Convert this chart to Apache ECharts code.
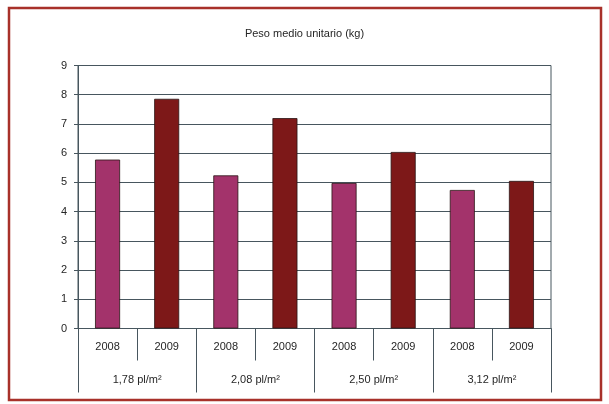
<!DOCTYPE html>
<html>
<head>
<meta charset="utf-8">
<script src="https://cdn.jsdelivr.net/npm/echarts@6/dist/echarts.min.js"></script>
<style>
html,body{margin:0;padding:0;background:#fff;}
#c{width:609px;height:404px;}
</style>
</head>
<body>
<div id="c"></div>
<script>
const titleText = 'Peso medio unitario (kg)';
const years = ['2008', '2009'];
const groups = ['1,78 pl/m²', '2,08 pl/m²', '2,50 pl/m²', '3,12 pl/m²'];
const values2008 = [5.78, 5.24, 4.98, 4.74];
const values2009 = [7.86, 7.20, 6.04, 5.05];
const yTicks = [0, 1, 2, 3, 4, 5, 6, 7, 8, 9];

const colors = ['#a3336b', '#7d1818'];
const lineCol = '#47565e';
const textCol = '#262626';
const font = 'Liberation Sans, Arial, sans-serif';

const cats = [];
const barData = [];
groups.forEach((g, i) => {
  [values2008[i], values2009[i]].forEach((v, j) => {
    cats.push(years[j]);
    barData.push({ value: v, itemStyle: { color: colors[j] } });
  });
});

const chart = echarts.init(document.getElementById('c'), null, { renderer: 'canvas' });
chart.setOption({
  backgroundColor: '#fff',
  animation: false,
  textStyle: { fontFamily: font },
  title: {
    text: titleText,
    left: 'center',
    top: 23,
    textStyle: { fontSize: 11, fontWeight: 'normal', color: textCol, fontFamily: font }
  },
  graphic: [{
    type: 'rect',
    shape: { x: 9, y: 8, width: 592, height: 392 },
    style: { fill: null, stroke: '#a8312a', lineWidth: 2.5 },
    silent: true
  }],
  grid: {
    left: 78, right: 58, top: 65.5, bottom: 75.5,
    show: true, borderColor: lineCol, borderWidth: 1, backgroundColor: 'transparent'
  },
  xAxis: [{
    type: 'category',
    data: cats,
    position: 'bottom',
    axisLine: { show: true, lineStyle: { color: lineCol, width: 1 } },
    axisTick: { show: true, length: 32, lineStyle: { color: lineCol } },
    axisLabel: { margin: 13, fontSize: 11, color: textCol, fontFamily: font, interval: 0 }
  }, {
    type: 'category',
    data: groups,
    position: 'bottom',
    axisLine: { show: false },
    axisTick: { show: true, length: 64, lineStyle: { color: lineCol } },
    axisLabel: { margin: 46, fontSize: 11, color: textCol, fontFamily: font, interval: 0 }
  }],
  yAxis: {
    type: 'value',
    min: yTicks[0],
    max: yTicks[yTicks.length - 1],
    interval: 1,
    axisLine: { show: true, lineStyle: { color: lineCol } },
    axisTick: { show: true, length: 4, lineStyle: { color: lineCol } },
    axisLabel: { margin: 11, fontSize: 11, color: textCol, fontFamily: font },
    splitLine: { show: true, lineStyle: { color: lineCol, width: 1 } }
  },
  series: [{
    type: 'bar',
    xAxisIndex: 0,
    data: barData,
    barWidth: 25,
    itemStyle: { borderColor: '#2a1515', borderWidth: 0.8 }
  }]
});
</script>
</body>
</html>
